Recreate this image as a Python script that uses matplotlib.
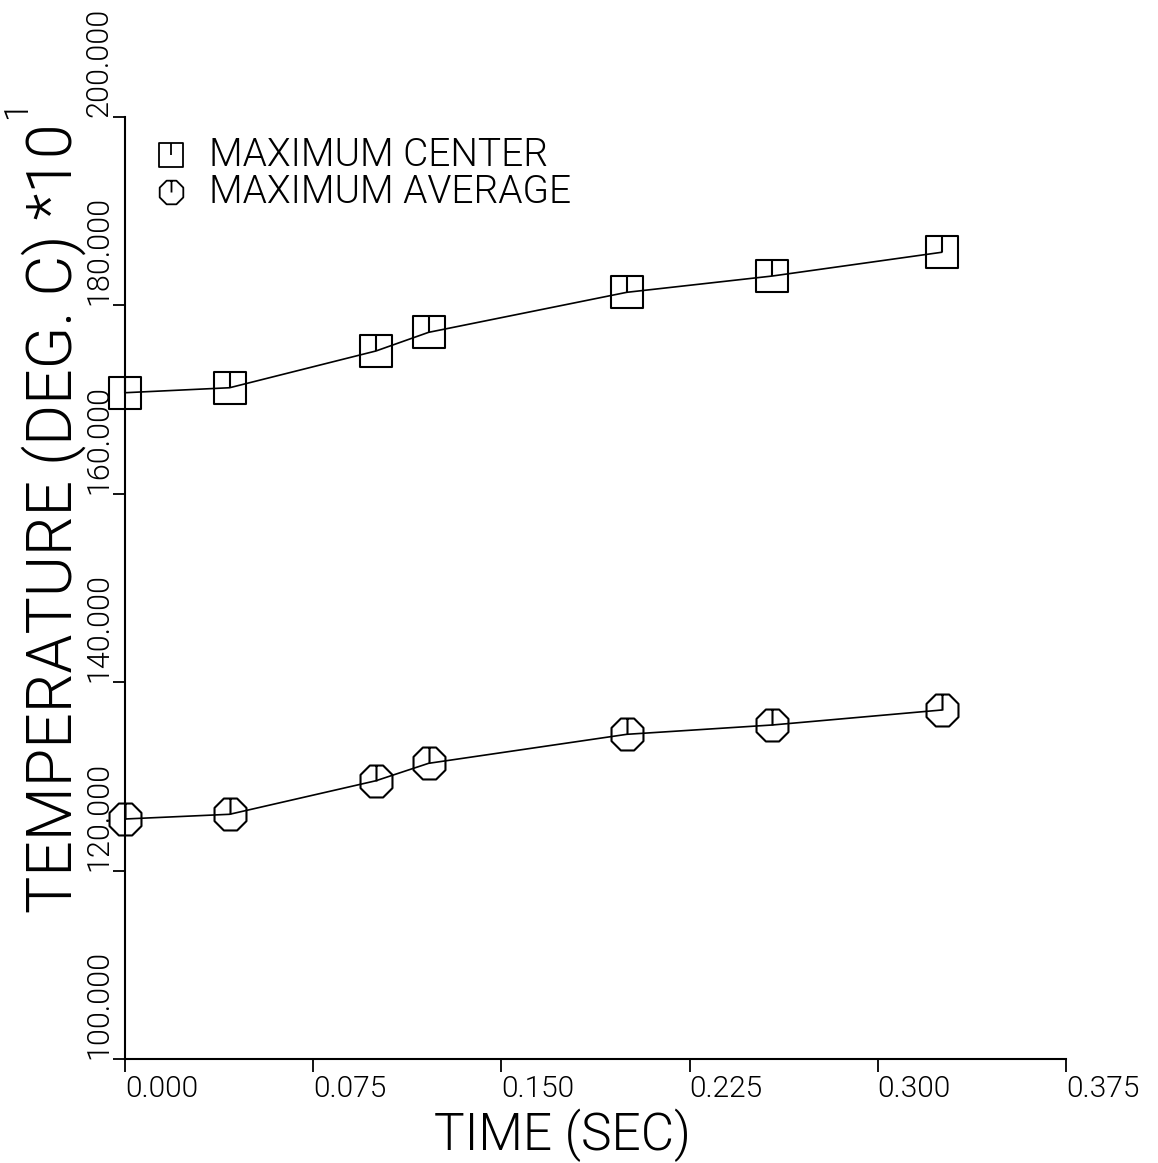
import numpy as np
import matplotlib
matplotlib.use("Agg")
import matplotlib.pyplot as plt
from matplotlib import font_manager as fm
from matplotlib.path import Path

# Measured peak temperatures (deg C / 10) against time
time_sec = [0.0, 0.0417, 0.1, 0.121, 0.2, 0.258, 0.3255]
max_center = [170.73, 171.26, 175.16, 177.14, 181.39, 183.12, 185.64]
max_average = [125.48, 125.98, 129.54, 131.39, 134.47, 135.46, 137.05]

series_labels = ["MAXIMUM CENTER", "MAXIMUM AVERAGE"]
x_ticks = [0.0, 0.075, 0.15, 0.225, 0.3, 0.375]
y_ticks = [100, 120, 140, 160, 180, 200]
x_title = "TIME (SEC)"
y_title = "TEMPERATURE (DEG. C) *10"
y_title_exp = "1"


def light_font():
    """Pick a thin sans face so the lettering resembles a pen plotter."""
    for fam in ["Roboto", "Lato", "Open Sans", "Inter", "Noto Sans"]:
        for w in (200, 300, 100):
            for f in fm.fontManager.ttflist:
                try:
                    fw = int(f.weight)
                except (TypeError, ValueError):
                    continue
                if f.name == fam and fw == w and f.style == "normal":
                    return fm.FontProperties(fname=f.fname)
    return fm.FontProperties(family="DejaVu Sans", weight="light")


BASE = light_font()


def fp(size):
    p = BASE.copy()
    p.set_size(size)
    return p


# Plotter-style symbols: outline plus a stroke from the centre to the top
sq = Path([(-1, -1), (1, -1), (1, 1), (-1, 1), (-1, -1), (0, 0), (0, 1)],
          [Path.MOVETO, Path.LINETO, Path.LINETO, Path.LINETO, Path.CLOSEPOLY,
           Path.MOVETO, Path.LINETO])
ang = np.deg2rad(22.5 + 45 * np.arange(8))
r = 1 / np.cos(np.deg2rad(22.5))
oct_v = [(r * np.cos(a), r * np.sin(a)) for a in ang]
octagon = Path(oct_v + [oct_v[0], (0, 0), (0, 1)],
               [Path.MOVETO] + [Path.LINETO] * 7 + [Path.CLOSEPOLY,
                                                    Path.MOVETO, Path.LINETO])

fig = plt.figure(figsize=(11.58, 11.63), dpi=100)
ax = fig.add_axes([0.1079, 0.0894, 0.8126, 0.8100])

for vals, mk in ((max_center, sq), (max_average, octagon)):
    ax.plot(time_sec, vals, color="black", lw=1.2, marker=mk, ms=23,
            mfc="none", mec="black", mew=1.5, clip_on=False)

ax.set_xlim(0, 0.375)
ax.set_ylim(100, 200)
for s in ("top", "right"):
    ax.spines[s].set_visible(False)
for s in ("left", "bottom"):
    ax.spines[s].set_linewidth(1.5)

ax.set_xticks(x_ticks)
ax.set_xticklabels([f"{v:.3f}" for v in x_ticks])
ax.set_yticks(y_ticks)
ax.set_yticklabels([f"{v:.3f}" for v in y_ticks])
ax.tick_params(direction="out", length=9, width=1.3, pad=4)
ax.tick_params(axis="x", pad=2.5)

for lab in ax.get_xticklabels():
    lab.set_fontproperties(fp(21.5))
    lab.set_ha("left")
for lab in ax.get_yticklabels():
    lab.set_fontproperties(fp(22))
    lab.set_rotation(90)
    lab.set_rotation_mode("anchor")
    lab.set_ha("left")
    lab.set_va("baseline")

# Legend drawn in axes fraction
leg_y = [0.9597, 0.9204]
for mk, yy, txt in zip((sq, octagon), leg_y, series_labels):
    ax.plot([0.0489], [yy], transform=ax.transAxes, marker=mk, ms=17,
            mfc="none", mec="black", mew=1.3, ls="none", clip_on=False)
    ax.text(0.089, yy, txt, transform=ax.transAxes, ha="left", va="center",
            fontproperties=fp(28))

fig.text(562 / 1158, 1 - 1162 / 1163, x_title, ha="center", va="bottom",
         fontproperties=fp(37))
fig.text(72 / 1158, 1 - 518 / 1163, y_title, ha="center", va="baseline",
         rotation=90, rotation_mode="anchor", fontproperties=fp(45))
fig.text(26 / 1158, 1 - 110 / 1163, y_title_exp, ha="center",
         va="baseline", rotation=90, rotation_mode="anchor",
         fontproperties=fp(24))

fig.savefig("out.png", dpi=100, facecolor="white")
